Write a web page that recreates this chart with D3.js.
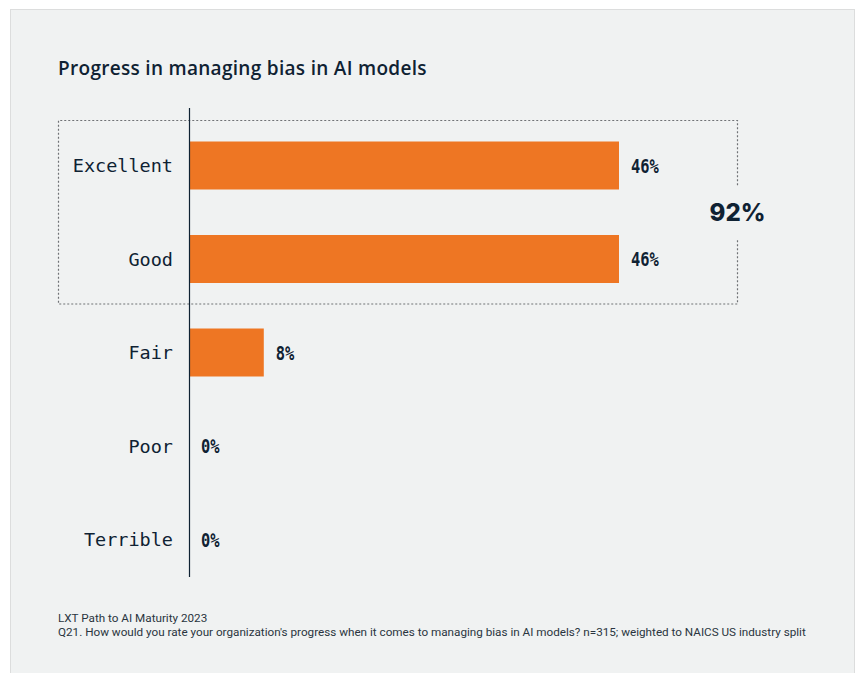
<!DOCTYPE html>
<html>
<head>
<meta charset="utf-8">
<script src="https://cdn.jsdelivr.net/npm/d3@7"></script>
<style>
  html, body { margin: 0; padding: 0; background: #ffffff; }
  svg { display: block; }
</style>
</head>
<body>
<svg id="chart" width="858" height="673"></svg>
<script>
// Survey responses: share of organisations per rating
const categories = ["Excellent", "Good", "Fair", "Poor", "Terrible"];
const values = [46, 46, 8, 0, 0];
const groupedCategories = ["Excellent", "Good"];
const groupedLabel = "92%";
const title = "Progress in managing bias in AI models";
const sourceLines = [
  "LXT Path to AI Maturity 2023",
  "Q21. How would you rate your organization's progress when it comes to managing bias in AI models? n=315; weighted to NAICS US industry split"
];

const ink = "#0f2233";
const orange = "#ee7623";

const svg = d3.select("#chart");

// card background
svg.append("rect")
  .attr("x", 10.5).attr("y", 9.5)
  .attr("width", 844).attr("height", 670)
  .attr("fill", "#f0f2f2")
  .attr("stroke", "#dcdddd").attr("stroke-width", 1);

svg.append("text")
  .attr("x", 58).attr("y", 75)
  .attr("font-family", "'Open Sans', sans-serif")
  .attr("font-weight", 600)
  .attr("font-size", 19)
  .attr("letter-spacing", 0.3)
  .attr("fill", ink)
  .text(title);

const x0 = 189;
const x = d3.scaleLinear().domain([0, 46]).range([x0, 619]);
const y = d3.scaleBand().domain(categories).range([118.75, 586.25])
  .paddingInner(0.4866).paddingOuter(0.2433);

// dashed bracket around the top-two ratings
const gTop = y(groupedCategories[0]) - 21;
const gBot = y(groupedCategories[groupedCategories.length - 1]) + y.bandwidth() + 21;
const boxL = 58.5, boxR = 737.5;
const midY = (gTop + gBot) / 2;
const gapHalf = 27;
svg.append("path")
  .attr("d", `M${boxR},${midY - gapHalf} V${gTop} H${boxL} V${gBot} H${boxR} V${midY + gapHalf}`)
  .attr("fill", "none")
  .attr("stroke", "#6f7275")
  .attr("stroke-width", 1.2)
  .attr("stroke-dasharray", "2,2");

svg.append("text")
  .attr("x", boxR).attr("y", midY)
  .attr("text-anchor", "middle")
  .attr("dominant-baseline", "central")
  .attr("font-family", "Inter, sans-serif")
  .attr("font-weight", 800)
  .attr("font-size", 24)
  .attr("fill", ink)
  .text(groupedLabel);

// bars
svg.selectAll("rect.bar")
  .data(categories)
  .join("rect")
  .attr("class", "bar")
  .attr("x", x(0))
  .attr("y", d => y(d))
  .attr("width", (d, i) => x(values[i]) - x(0))
  .attr("height", y.bandwidth())
  .attr("fill", orange);

// category labels
svg.selectAll("text.cat")
  .data(categories)
  .join("text")
  .attr("class", "cat")
  .attr("x", 173)
  .attr("y", d => y(d) + y.bandwidth() / 2)
  .attr("text-anchor", "end")
  .attr("dominant-baseline", "central")
  .attr("font-family", "'DejaVu Sans Mono', monospace")
  .attr("font-size", 18.5)
  .attr("fill", ink)
  .text(d => d);

// value labels
svg.selectAll("text.val")
  .data(categories)
  .join("text")
  .attr("class", "val")
  .attr("transform", (d, i) => `translate(${x(values[i]) + 12},${y(d) + y.bandwidth() / 2}) scale(0.77,1)`)
  .attr("dominant-baseline", "central")
  .attr("font-family", "'DejaVu Sans Mono', monospace")
  .attr("font-weight", 700)
  .attr("font-size", 20)
  .attr("fill", ink)
  .text((d, i) => values[i] + "%");

// category axis line
svg.append("line")
  .attr("x1", x0 + 0.5).attr("x2", x0 + 0.5)
  .attr("y1", 108).attr("y2", 577)
  .attr("stroke", ink).attr("stroke-width", 1.2);

// source notes
svg.selectAll("text.src")
  .data(sourceLines)
  .join("text")
  .attr("class", "src")
  .attr("x", 58)
  .attr("y", (d, i) => 622 + i * 14)
  .attr("font-family", "Roboto, sans-serif")
  .attr("font-size", 11.7)
  .attr("fill", "#2a3540")
  .text(d => d);
</script>
</body>
</html>
